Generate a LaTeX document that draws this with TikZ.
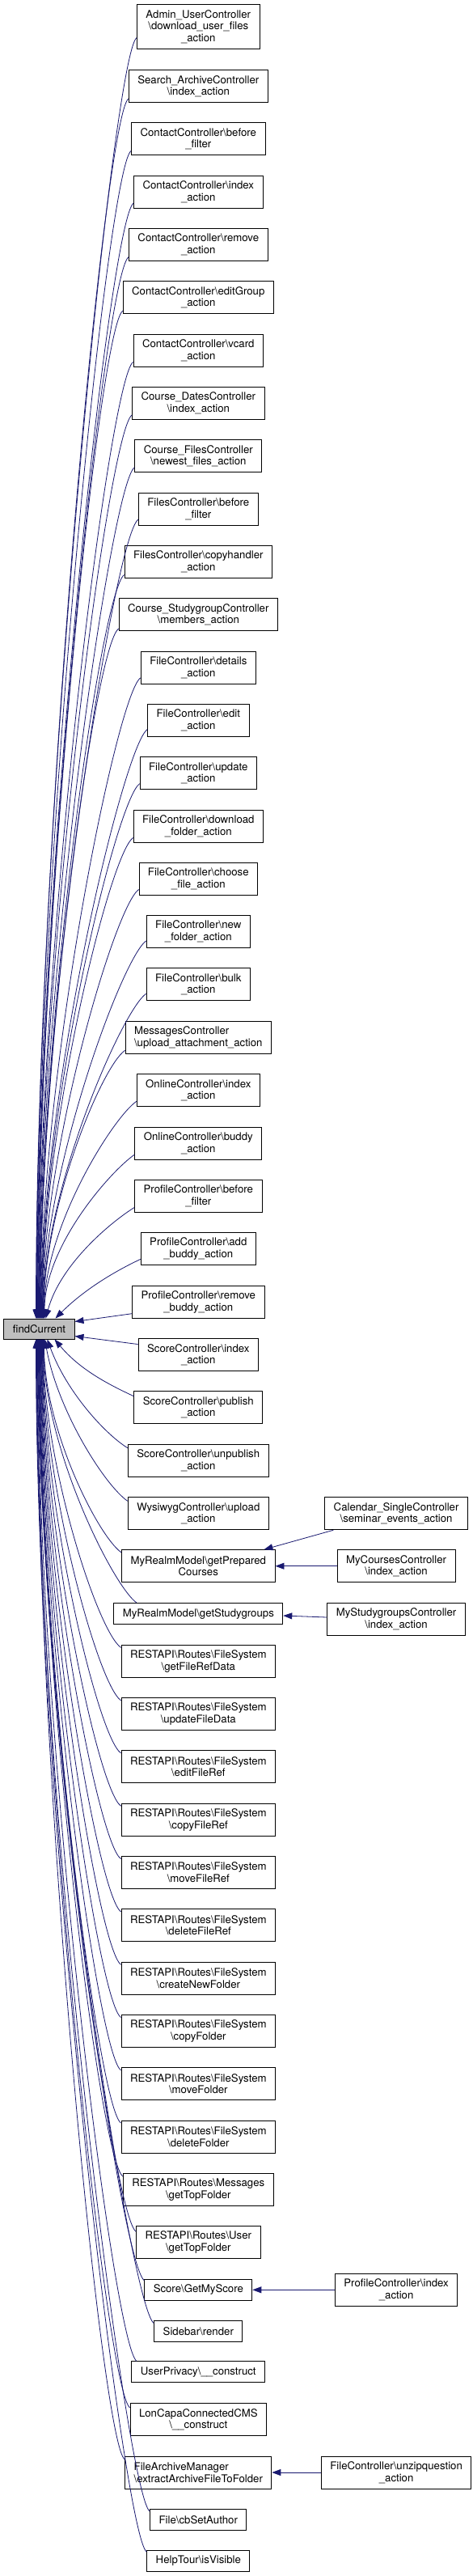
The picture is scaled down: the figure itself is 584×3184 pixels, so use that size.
\documentclass[tikz,border=0pt]{standalone}
\usepackage{fontspec}
\setmainfont{TeX Gyre Heros}
\usetikzlibrary{shapes}
\usetikzlibrary{arrows.meta}
\definecolor{midnight}{HTML}{191970}
\definecolor{curgray}{HTML}{BFBFBF}
\newcommand{\bsl}{\textbackslash}
\tikzset{
    callnode/.style = {rectangle, draw=black, line width=0.9pt, fill=white, align=center, inner xsep=11pt, inner ysep=0pt, minimum height=40pt, font=\fontsize{13.2}{14.7}\selectfont},
    callnodes/.style = {callnode, minimum height=26pt}, % one line
    callnodet/.style = {callnode, minimum height=55pt}, % three lines
    curnode/.style = {callnode, fill=curgray, minimum height=25pt},
    edgen/.style = {-{Triangle[length=11pt,width=8pt]}, line width=0.8pt, draw=midnight}
}
\begin{document}
\begin{tikzpicture}[x=1pt,y=1pt]
\path[fill=white] (0,0) rectangle (584,-3184);
\useasboundingbox (0,0) rectangle (584,-3184);

\node[curnode] at ( 48.5, -1642.5) (fc) {findCurrent};

\node[callnodet] at (245.3,  -33.2) (admin) {Admin\_UserController\\\bsl download\_user\_files\\\_action};
\node[callnode] at (245.3, -106.7) (search) {Search\_ArchiveController\\\bsl index\_action};
\node[callnode] at (245.3, -171.8) (ctbefore) {ContactController\bsl before\\\_filter};
\node[callnode] at (245.3, -237.0) (ctindex) {ContactController\bsl index\\\_action};
\node[callnode] at (245.3, -302.5) (ctremove) {ContactController\bsl remove\\\_action};
\node[callnode] at (245.3, -367.8) (cteditgroup) {ContactController\bsl editGroup\\\_action};
\node[callnode] at (245.3, -433.2) (ctvcard) {ContactController\bsl vcard\\\_action};
\node[callnode] at (245.3, -498.5) (crsdates) {Course\_DatesController\\\bsl index\_action};
\node[callnode] at (245.3, -563.8) (crsfiles) {Course\_FilesController\\\bsl newest\_files\_action};
\node[callnode] at (245.3, -629.0) (fsbefore) {FilesController\bsl before\\\_filter};
\node[callnode] at (245.3, -694.3) (fscopy) {FilesController\bsl copyhandler\\\_action};
\node[callnode] at (245.3, -759.7) (crsgroup) {Course\_StudygroupController\\\bsl members\_action};
\node[callnode] at (245.3, -825.2) (fldetails) {FileController\bsl details\\\_action};
\node[callnode] at (245.3, -890.5) (fledit) {FileController\bsl edit\\\_action};
\node[callnode] at (245.3, -955.8) (flupdate) {FileController\bsl update\\\_action};
\node[callnode] at (245.3, -1021.2) (fldownload) {FileController\bsl download\\\_folder\_action};
\node[callnode] at (245.3, -1086.5) (flchoose) {FileController\bsl choose\\\_file\_action};
\node[callnode] at (245.3, -1151.5) (flnew) {FileController\bsl new\\\_folder\_action};
\node[callnode] at (245.3, -1216.8) (flbulk) {FileController\bsl bulk\\\_action};
\node[callnode, align=left] at (245.3, -1282.3) (msgupload) {MessagesController\\\bsl upload\_attachment\_action};
\node[callnode] at (245.3, -1347.8) (onindex) {OnlineController\bsl index\\\_action};
\node[callnode] at (245.3, -1413.2) (onbuddy) {OnlineController\bsl buddy\\\_action};
\node[callnode] at (245.3, -1478.5) (pfbefore) {ProfileController\bsl before\\\_filter};
\node[callnode] at (245.3, -1543.8) (pfadd) {ProfileController\bsl add\\\_buddy\_action};
\node[callnode] at (245.3, -1609.2) (pfremove) {ProfileController\bsl remove\\\_buddy\_action};
\node[callnode] at (245.3, -1674.7) (scindex) {ScoreController\bsl index\\\_action};
\node[callnode] at (245.3, -1739.8) (scpublish) {ScoreController\bsl publish\\\_action};
\node[callnode] at (245.3, -1805.2) (scunpublish) {ScoreController\bsl unpublish\\\_action};
\node[callnode] at (245.3, -1870.8) (wysiwyg) {WysiwygController\bsl upload\\\_action};
\node[callnode] at (245.3, -1935.7) (mrcourses) {MyRealmModel\bsl getPrepared\\Courses};
\node[callnodes] at (245.3, -1994.5) (mrgroups) {MyRealmModel\bsl getStudygroups};
\node[callnode] at (245.3, -2053.3) (rsfileref) {RESTAPI\bsl Routes\bsl FileSystem\\\bsl getFileRefData};
\node[callnode] at (245.3, -2118.7) (rsupdate) {RESTAPI\bsl Routes\bsl FileSystem\\\bsl updateFileData};
\node[callnode] at (245.3, -2183.8) (rsedit) {RESTAPI\bsl Routes\bsl FileSystem\\\bsl editFileRef};
\node[callnode] at (245.3, -2249.2) (rscopyref) {RESTAPI\bsl Routes\bsl FileSystem\\\bsl copyFileRef};
\node[callnode] at (245.3, -2314.5) (rsmoveref) {RESTAPI\bsl Routes\bsl FileSystem\\\bsl moveFileRef};
\node[callnode] at (245.3, -2379.8) (rsdeleteref) {RESTAPI\bsl Routes\bsl FileSystem\\\bsl deleteFileRef};
\node[callnode] at (245.3, -2445.2) (rsnewfolder) {RESTAPI\bsl Routes\bsl FileSystem\\\bsl createNewFolder};
\node[callnode] at (245.3, -2510.5) (rscopyfolder) {RESTAPI\bsl Routes\bsl FileSystem\\\bsl copyFolder};
\node[callnode] at (245.3, -2575.8) (rsmovefolder) {RESTAPI\bsl Routes\bsl FileSystem\\\bsl moveFolder};
\node[callnode] at (245.3, -2641.0) (rsdeletefolder) {RESTAPI\bsl Routes\bsl FileSystem\\\bsl deleteFolder};
\node[callnode] at (245.3, -2706.5) (rsmsgtop) {RESTAPI\bsl Routes\bsl Messages\\\bsl getTopFolder};
\node[callnode] at (245.3, -2771.8) (rsusertop) {RESTAPI\bsl Routes\bsl User\\\bsl getTopFolder};
\node[callnodes] at (245.3, -2830.3) (myscore) {Score\bsl GetMyScore};
\node[callnodes] at (245.3, -2881.3) (sidebar) {Sidebar\bsl render};
\node[callnodes] at (245.3, -2931.8) (privacy) {UserPrivacy\bsl\_\_construct};
\node[callnode] at (245.3, -2990.8) (loncapa) {LonCapaConnectedCMS\\\bsl\_\_construct};
\node[callnode, align=left] at (245.3, -3056.0) (archive) {FileArchiveManager\\\bsl extractArchiveFileToFolder};
\node[callnodes] at (245.3, -3114.7) (cbauthor) {File\bsl cbSetAuthor};
\node[callnodes] at (245.3, -3165.3) (helptour) {HelpTour\bsl isVisible};

\node[callnode] at (490.1, -1870.8) (calendar) {Calendar\_SingleController\\\bsl seminar\_events\_action};
\node[callnode] at (490.1, -1935.7) (mycourses) {MyCoursesController\\\bsl index\_action};
\node[callnode] at (490.1, -2001.0) (mygroups) {MyStudygroupsController\\\bsl index\_action};
\node[callnode] at (490.1, -2830.3) (pfindex) {ProfileController\bsl index\\\_action};
\node[callnode] at (490.1, -3056.0) (unzip) {FileController\bsl unzipquestion\\\_action};

% callers above findCurrent
\draw[edgen] (admin.190) .. controls +(-29,-20) and +(0,617) .. ([xshift=-4pt]fc.north);
\draw[edgen] (search.190) .. controls +(-29,-20) and +(0,589) .. ([xshift=-3.5pt]fc.north);
\draw[edgen] (ctbefore.190) .. controls +(-29,-20) and +(0,563) .. ([xshift=-3pt]fc.north);
\draw[edgen] (ctindex.190) .. controls +(-29,-20) and +(0,538) .. ([xshift=-2.5pt]fc.north);
\draw[edgen] (ctremove.190) .. controls +(-29,-20) and +(0,512) .. ([xshift=-2pt]fc.north);
\draw[edgen] (cteditgroup.190) .. controls +(-29,-20) and +(0,487) .. ([xshift=-1.5pt]fc.north);
\draw[edgen] (ctvcard.190) .. controls +(-29,-20) and +(0,461) .. ([xshift=-1pt]fc.north);
\draw[edgen] (crsdates.190) .. controls +(-29,-20) and +(0,436) .. ([xshift=-0.5pt]fc.north);
\draw[edgen] (crsfiles.190) .. controls +(-29,-20) and +(0,410) .. (fc.north);
\draw[edgen] (fsbefore.190) .. controls +(-29,-20) and +(0,385) .. ([xshift=0.5pt]fc.north);
\draw[edgen] (fscopy.190) .. controls +(-29,-20) and +(0,360) .. ([xshift=1pt]fc.north);
\draw[edgen] (crsgroup.190) .. controls +(-29,-20) and +(0,334) .. ([xshift=1.5pt]fc.north);
\draw[edgen] (fldetails.190) .. controls +(-29,-20) and +(0,308) .. ([xshift=2pt]fc.north);
\draw[edgen] (fledit.190) .. controls +(-29,-20) and +(0,283) .. ([xshift=2.5pt]fc.north);
\draw[edgen] (flupdate.190) .. controls +(-29,-20) and +(0,257) .. ([xshift=3pt]fc.north);
\draw[edgen] (fldownload.190) .. controls +(-29,-20) and +(0,232) .. ([xshift=3.5pt]fc.north);
\draw[edgen] (flchoose.190) .. controls +(-29,-20) and +(0,207) .. ([xshift=4pt]fc.north);
\draw[edgen] (flnew.190) .. controls +(-29,-20) and +(0,181) .. ([xshift=4.5pt]fc.north);
\draw[edgen] (flbulk.190) .. controls +(-29,-20) and +(0,160) .. ([xshift=5pt]fc.north);
\draw[edgen] (msgupload.190) .. controls +(-29,-20) and +(0,137) .. ([xshift=5.5pt]fc.north);
\draw[edgen] (onindex.190) .. controls +(-29,-20) and +(0,113) .. ([xshift=6pt]fc.north);
\draw[edgen] (onbuddy.190) .. controls +(-29,-20) and +(0,90) .. ([xshift=6.5pt]fc.north);
\draw[edgen] (pfbefore.190) .. controls +(-29.7,-18.5) and +(17.9,66.6) .. ([xshift=8pt]fc.north);
\draw[edgen] (pfadd.190) .. controls +(-31.7,-14.8) and +(35.4,35.4) .. ([xshift=20pt]fc.north);
\draw[edgen] (pfremove.190) -- ([yshift=9pt]fc.east);
\draw[edgen] (scindex.170) -- ([yshift=-9pt]fc.east);

% callers below findCurrent
\draw[edgen] (scpublish.170) .. controls +(-31.7,14.8) and +(31.5,-37.5) .. ([xshift=19pt]fc.south);
\draw[edgen] (scunpublish.170) .. controls +(-29.7,18.5) and +(22.9,-63) .. ([xshift=10pt]fc.south);
\draw[edgen] (wysiwyg.170) .. controls +(-28.7,20.1) and +(15.5,-87.6) .. ([xshift=7pt]fc.south);
\draw[edgen] (mrcourses.170) .. controls +(-28.7,20.1) and +(0,-111) .. ([xshift=6pt]fc.south);
\draw[edgen] (mrgroups.170) .. controls +(-28.7,20.1) and +(0,-134) .. ([xshift=5.5pt]fc.south);
\draw[edgen] (rsfileref.170) .. controls +(-28.7,20.1) and +(0,-154) .. ([xshift=5pt]fc.south);
\draw[edgen] (rsupdate.170) .. controls +(-28.7,20.1) and +(0,-179) .. ([xshift=4.5pt]fc.south);
\draw[edgen] (rsedit.170) .. controls +(-28.7,20.1) and +(0,-204) .. ([xshift=4pt]fc.south);
\draw[edgen] (rscopyref.170) .. controls +(-28.7,20.1) and +(0,-229) .. ([xshift=3.5pt]fc.south);
\draw[edgen] (rsmoveref.170) .. controls +(-28.7,20.1) and +(0,-254) .. ([xshift=3pt]fc.south);
\draw[edgen] (rsdeleteref.170) .. controls +(-28.7,20.1) and +(0,-279) .. ([xshift=2.5pt]fc.south);
\draw[edgen] (rsnewfolder.170) .. controls +(-28.7,20.1) and +(0,-305) .. ([xshift=2pt]fc.south);
\draw[edgen] (rscopyfolder.170) .. controls +(-28.7,20.1) and +(0,-330) .. ([xshift=1.5pt]fc.south);
\draw[edgen] (rsmovefolder.170) .. controls +(-28.7,20.1) and +(0,-355) .. ([xshift=1pt]fc.south);
\draw[edgen] (rsdeletefolder.170) .. controls +(-28.7,20.1) and +(0,-380) .. ([xshift=0.5pt]fc.south);
\draw[edgen] (rsmsgtop.170) .. controls +(-28.7,20.1) and +(0,-406) .. (fc.south);
\draw[edgen] (rsusertop.170) .. controls +(-28.7,20.1) and +(0,-431) .. ([xshift=-0.5pt]fc.south);
\draw[edgen] (myscore.170) .. controls +(-28.7,20.1) and +(0,-455) .. ([xshift=-1pt]fc.south);
\draw[edgen] (sidebar.170) .. controls +(-28.7,20.1) and +(0,-476) .. ([xshift=-1.5pt]fc.south);
\draw[edgen] (privacy.170) .. controls +(-28.7,20.1) and +(0,-495) .. ([xshift=-2pt]fc.south);
\draw[edgen] (loncapa.170) .. controls +(-28.7,20.1) and +(0,-516) .. ([xshift=-2.5pt]fc.south);
\draw[edgen] (archive.170) .. controls +(-28.7,20.1) and +(0,-541) .. ([xshift=-3pt]fc.south);
\draw[edgen] (cbauthor.170) .. controls +(-28.7,20.1) and +(0,-566) .. ([xshift=-3.5pt]fc.south);
\draw[edgen] (helptour.170) .. controls +(-28.7,20.1) and +(0,-586) .. ([xshift=-4pt]fc.south);

% second level callers
\draw[edgen] ([xshift=11pt]calendar.south west) -- ([xshift=-14pt]mrcourses.north east);
\draw[edgen] (mycourses.west) -- (mrcourses.east);
\draw[edgen] ([yshift=2pt]mygroups.west) -- ([yshift=-2.5pt]mrgroups.east);
\draw[edgen] (pfindex.west) -- (myscore.east);
\draw[edgen] (unzip.west) -- (archive.east);

\end{tikzpicture}
\end{document}
